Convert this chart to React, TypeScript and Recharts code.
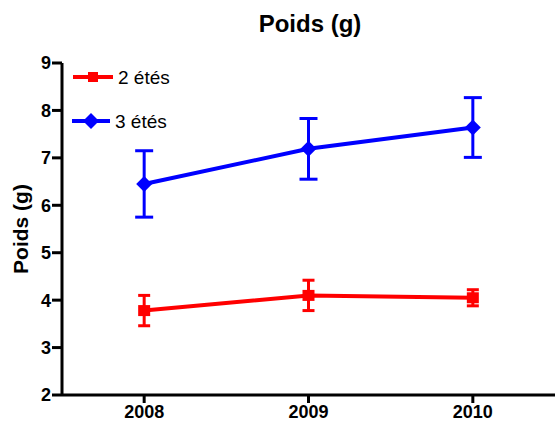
import { LineChart, Line, XAxis, YAxis, ErrorBar, Legend } from 'recharts'

const FONT = '"Liberation Sans", Arial, sans-serif'

const years = [2008, 2009, 2010]
const yTicks = [2, 3, 4, 5, 6, 7, 8, 9]

// mean weight (g) and error (±) per year
const twoEtes = [3.78, 4.1, 4.05]
const twoEtesErr = [0.32, 0.32, 0.17]
const threeEtes = [6.45, 7.19, 7.64]
const threeEtesErr = [0.7, 0.64, 0.63]

const data = years.map((year, i) => ({
  year,
  two: twoEtes[i],
  twoErr: twoEtesErr[i],
  three: threeEtes[i],
  threeErr: threeEtesErr[i],
}))

const RED = '#ff0000'
const BLUE = '#0000ff'

// eslint-disable-next-line @typescript-eslint/no-explicit-any
const SquareDot = (props: any) => {
  const { cx, cy } = props
  if (cx == null || cy == null) return null
  return <rect x={cx - 6} y={cy - 5.5} width={12} height={11} fill={RED} />
}

// eslint-disable-next-line @typescript-eslint/no-explicit-any
const DiamondDot = (props: any) => {
  const { cx, cy } = props
  if (cx == null || cy == null) return null
  return (
    <polygon
      points={`${cx},${cy - 8} ${cx + 8},${cy} ${cx},${cy + 8} ${cx - 8},${cy}`}
      fill={BLUE}
    />
  )
}

const LegendBox = () => (
  <svg width={140} height={80} style={{ display: 'block', overflow: 'visible' }}>
    <line x1={13} y1={17} x2={53} y2={17} stroke={RED} strokeWidth={4} />
    <rect x={28} y={12} width={10} height={10} fill={RED} />
    <text x={58} y={17} dominantBaseline="central" fontSize={19} fontFamily={FONT} fill="#000">
      2 étés
    </text>
    <line x1={12} y1={61} x2={50} y2={61} stroke={BLUE} strokeWidth={4} />
    <polygon points="31,53 39,61 31,69 23,61" fill={BLUE} />
    <text x={55} y={61} dominantBaseline="central" fontSize={19} fontFamily={FONT} fill="#000">
      3 étés
    </text>
  </svg>
)

const tickStyle = { fontSize: 18, fontWeight: 700, fill: '#000', fontFamily: FONT }
const axisStroke = { stroke: '#000', strokeWidth: 3 }

export default function App() {
  return (
    <div style={{ position: 'relative', width: 555, height: 423, background: '#fff', overflow: 'hidden' }}>
      <style>{'body{margin:0}'}</style>
      <div
        style={{
          position: 'absolute',
          left: 0,
          width: 620,
          top: 10,
          textAlign: 'center',
          fontFamily: FONT,
          fontWeight: 700,
          fontSize: 24,
          lineHeight: '28px',
          color: '#000',
          zIndex: 1,
        }}
      >
        Poids (g)
      </div>
      <LineChart
        width={555}
        height={423}
        data={data}
        margin={{ top: 63, right: 0, bottom: 0, left: 0 }}
      >
        <XAxis
          dataKey="year"
          type="number"
          domain={[2007.5, 2010.5]}
          ticks={years}
          allowDataOverflow
          height={28}
          tickSize={8}
          tickMargin={2}
          tick={tickStyle}
          axisLine={axisStroke}
          tickLine={axisStroke}
        />
        <YAxis
          type="number"
          domain={[2, 9]}
          ticks={yTicks}
          width={62}
          tickSize={10}
          tickMargin={1}
          tick={tickStyle}
          axisLine={axisStroke}
          tickLine={axisStroke}
          label={{
            content: () => (
              <text
                x={28}
                y={229}
                transform="rotate(-90, 28, 229)"
                textAnchor="middle"
                fontSize={21}
                fontWeight={700}
                fontFamily={FONT}
                fill="#000"
              >
                Poids (g)
              </text>
            ),
          }}
        />
        <Legend
          layout="vertical"
          align="center"
          verticalAlign="middle"
          wrapperStyle={{ left: 60, top: 60, width: 140 }}
          content={() => <LegendBox />}
        />
        <Line
          dataKey="two"
          name="2 étés"
          stroke={RED}
          strokeWidth={4}
          dot={<SquareDot />}
          activeDot={false}
          isAnimationActive={false}
        >
          <ErrorBar dataKey="twoErr" width={6} strokeWidth={3} stroke={RED} direction="y" />
        </Line>
        <Line
          dataKey="three"
          name="3 étés"
          stroke={BLUE}
          strokeWidth={4}
          dot={<DiamondDot />}
          activeDot={false}
          isAnimationActive={false}
        >
          <ErrorBar dataKey="threeErr" width={9} strokeWidth={3} stroke={BLUE} direction="y" />
        </Line>
      </LineChart>
    </div>
  )
}
